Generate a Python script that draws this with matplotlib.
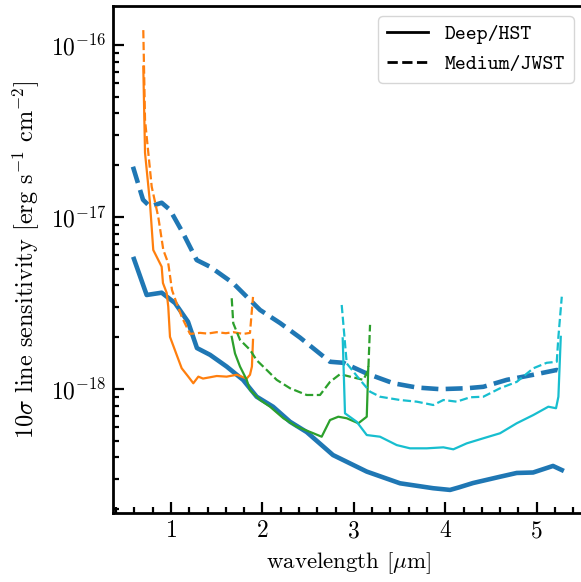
import matplotlib
matplotlib.use("Agg")
import matplotlib.pyplot as plt
import numpy as np
from matplotlib.ticker import MultipleLocator, FixedLocator, NullFormatter

plt.rcParams['font.family'] = ['cmr10', 'DejaVu Serif']
plt.rcParams['mathtext.fontset'] = 'cm'
plt.rcParams['axes.formatter.use_mathtext'] = True
plt.rcParams['axes.unicode_minus'] = False

SCALE = 1e-18  # values below in units of 1e-18 erg/s/cm^2

# Deep/HST (solid) and Medium/JWST (dashed)
blue_deep_x = [0.595, 0.734, 0.898, 1.044, 1.186, 1.284, 1.427, 1.609, 1.788, 1.937, 2.116,
               2.302, 2.484, 2.772, 3.141, 3.505, 3.866, 4.052, 4.15, 4.303, 4.599, 4.781,
               4.960, 5.178, 5.274]
blue_deep_y = [5.70, 3.52, 3.63, 3.16, 2.46, 1.73, 1.58, 1.35, 1.13, 0.902, 0.789,
               0.645, 0.562, 0.413, 0.331, 0.283, 0.265, 0.259, 0.268, 0.284, 0.309, 0.325,
               0.327, 0.357, 0.338]

blue_med_x = [0.584, 0.694, 0.770, 0.898, 0.989, 1.131, 1.281, 1.427, 1.678, 1.828, 1.974,
              2.192, 2.411, 2.739, 2.885, 3.141, 3.432, 3.688, 3.942, 4.234, 4.416, 4.672,
              4.963, 5.219, 5.26]
blue_med_y = [19.6, 12.6, 11.5, 12.1, 11.0, 8.07, 5.62, 5.14, 4.13, 3.44, 2.88,
              2.42, 1.99, 1.44, 1.42, 1.23, 1.08, 1.02, 0.998, 1.01, 1.03, 1.13,
              1.21, 1.29, 1.27]

orange_deep_x = [0.697, 0.716, 0.770, 0.806, 0.898, 0.912, 0.953, 0.970, 0.989, 1.062, 1.117,
                 1.189, 1.244, 1.299, 1.35, 1.427, 1.50, 1.609, 1.719, 1.828, 1.864, 1.885, 1.897]
orange_deep_y = [74.8, 23.6, 12.1, 6.43, 5.14, 4.13, 3.62, 3.01, 2.01, 1.58, 1.32,
                 1.18, 1.08, 1.18, 1.15, 1.17, 1.19, 1.18, 1.21, 1.15, 1.21, 1.35, 1.93]

orange_med_x = [0.697, 0.716, 0.789, 0.861, 0.916, 0.970, 1.011, 1.062, 1.117, 1.208, 1.317,
                1.40, 1.500, 1.60, 1.681, 1.791, 1.864, 1.897]
orange_med_y = [122, 36.6, 15.0, 10.0, 6.43, 5.38, 3.76, 3.15, 2.63, 2.09, 2.12,
                2.10, 2.14, 2.11, 2.14, 2.09, 2.12, 3.43]

green_deep_x = [1.664, 1.700, 1.755, 1.828, 1.864, 1.974, 2.083, 2.229, 2.375, 2.557, 2.648,
                2.739, 2.830, 2.922, 3.049, 3.141, 3.158]
green_deep_y = [2.01, 1.61, 1.35, 1.13, 0.987, 0.863, 0.789, 0.676, 0.604, 0.553, 0.528,
                0.660, 0.690, 0.676, 0.632, 0.690, 1.34]

green_med_x = [1.664, 1.681, 1.755, 1.864, 1.937, 2.047, 2.156, 2.302, 2.484, 2.630, 2.739,
               2.849, 2.958, 3.104, 3.158, 3.177]
green_med_y = [3.37, 2.41, 1.93, 1.69, 1.47, 1.29, 1.13, 1.01, 0.923, 0.923, 1.10,
               1.22, 1.18, 1.13, 1.29, 2.36]

cyan_deep_x = [2.878, 2.903, 3.031, 3.141, 3.286, 3.469, 3.614, 3.797, 3.979, 4.088, 4.234,
               4.416, 4.599, 4.781, 4.963, 5.127, 5.211, 5.237, 5.263]
cyan_deep_y = [1.97, 0.722, 0.645, 0.540, 0.528, 0.472, 0.452, 0.452, 0.458, 0.446, 0.483,
               0.517, 0.553, 0.632, 0.706, 0.789, 0.773, 0.902, 2.01]

cyan_med_x = [2.867, 2.922, 3.067, 3.177, 3.286, 3.505, 3.688, 3.869, 3.979, 4.125, 4.271,
              4.416, 4.599, 4.781, 4.963, 5.109, 5.219, 5.237, 5.274]
cyan_med_y = [3.08, 1.41, 1.13, 0.965, 0.902, 0.863, 0.844, 0.807, 0.863, 0.844, 0.895,
              0.902, 1.01, 1.10, 1.32, 1.42, 1.44, 2.01, 3.44]

legend_labels = ['Deep/HST', 'Medium/JWST']
y_major_ticks = [1e-18, 1e-17, 1e-16]
y_minor_ticks = [m * 10.0 ** e for e in (-19, -18, -17, -16) for m in range(2, 10)]

W, H = 581, 582
fig = plt.figure(figsize=(W / 100, H / 100), dpi=100)
left, right, bottom, top = 113.3, 584.0, 513.3, 6.0
ax = fig.add_axes([left / W, (H - bottom) / H, (right - left) / W, (bottom - top) / H])

def arr(v):
    return np.array(v) * SCALE

ax.plot(blue_deep_x, arr(blue_deep_y), color='#1f77b4', lw=3.3, ls='-')
ax.plot(blue_med_x, arr(blue_med_y), color='#1f77b4', lw=3.3, ls='--')
ax.plot(orange_deep_x, arr(orange_deep_y), color='#ff7f0e', lw=1.6, ls='-')
ax.plot(orange_med_x, arr(orange_med_y), color='#ff7f0e', lw=1.6, ls='--')
ax.plot(green_deep_x, arr(green_deep_y), color='#2ca02c', lw=1.6, ls='-')
ax.plot(green_med_x, arr(green_med_y), color='#2ca02c', lw=1.6, ls='--')
ax.plot(cyan_deep_x, arr(cyan_deep_y), color='#17becf', lw=1.6, ls='-')
ax.plot(cyan_med_x, arr(cyan_med_y), color='#17becf', lw=1.6, ls='--')

ax.set_yscale('log')
ax.set_xlim(0.369, 5.517)
ax.set_ylim(1.894e-19, 1.685e-16)

ax.xaxis.set_major_locator(MultipleLocator(1))
ax.xaxis.set_minor_locator(MultipleLocator(0.2))
ax.yaxis.set_major_locator(FixedLocator(y_major_ticks))
ax.yaxis.set_minor_locator(FixedLocator(y_minor_ticks))
ax.yaxis.set_minor_formatter(NullFormatter())

for s in ax.spines.values():
    s.set_linewidth(2.0)
ax.tick_params(which='both', direction='in', width=1.6, labelsize=17, pad=5)
ax.tick_params(which='major', length=8)
ax.tick_params(which='minor', length=4)

ax.set_xlabel(r'wavelength [$\mu$m]', fontsize=16.5, labelpad=6)
ax.set_ylabel(r'10$\sigma$ line sensitivity [erg s$^{-1}$ cm$^{-2}$]', fontsize=17.5, labelpad=6)

h1, = ax.plot([], [], color='k', lw=2, ls='-')
h2, = ax.plot([], [], color='k', lw=2, ls='--')
ax.legend([h1, h2], legend_labels, loc='upper right', prop={'family': 'cmtt10', 'size': 15})

fig.savefig('out.png', dpi=100)
